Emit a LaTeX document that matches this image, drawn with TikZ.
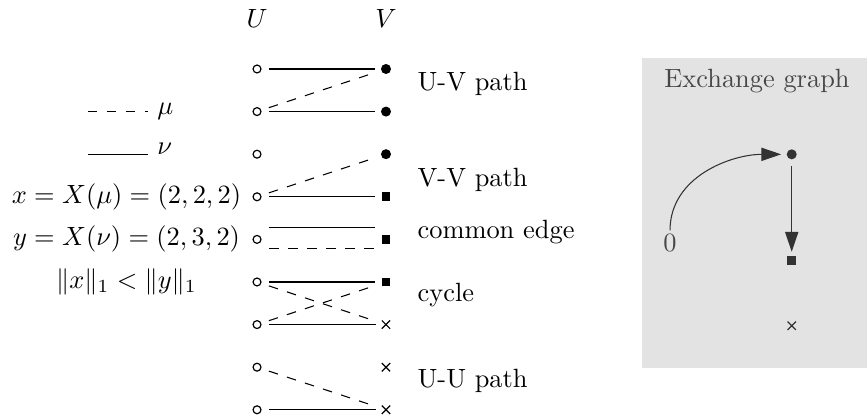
\documentclass[tikz,border=0pt]{standalone}
\usepackage{amsmath,amssymb}
\usepackage{xcolor}
\usepackage{tikz}
\usetikzlibrary{arrows.meta,shapes.misc}

\begin{document}
\begin{tikzpicture}[
    every node/.style = {font=\normalsize},
    % Named styles
    uvert/.style   = {circle, draw, fill=white, inner sep=0pt, minimum size=3pt, line width=0.45pt},
    vdot/.style    = {circle, fill, inner sep=0pt, minimum size=3.8pt},
    vsq/.style     = {rectangle, fill, inner sep=0pt, minimum size=3.4pt},
    vx/.style      = {cross out, draw, inner sep=0pt, minimum size=2.7pt, line width=0.45pt},
    nu/.style      = {shorten <=3pt, shorten >=2.2pt},
    mu/.style      = {nu, dash pattern=on 3.6pt off 3.6pt},
    caselabel/.style = {anchor=base west},
    exbox/.style   = {fill=black!11},
    extext/.style  = {text=black!72},
    exarrow/.style = {black!80, -{Triangle[length=7.5pt,width=5pt]}},
]

% ── Dimensions (tikz units; 1 unit = 1 cm) ───────────────────────────────────
\def\xU{3.424}     % column U
\def\xV{5.142}     % column V
\def\xT{1.685}     % left text column
\def\xL{5.44}      % case labels
\def\rowtop{-0.919}
\def\rowsep{0.5675}

\useasboundingbox (0,0) rectangle (11.55,-5.582);

% ── Column heads ──────────────────────────────────────────────────────────────
\node[anchor=base] (hU) at (\xU,-0.36) {$U$};
\node[anchor=base] (hV) at (\xV,-0.36) {$V$};

% ── Vertices ──────────────────────────────────────────────────────────────────
\foreach \i/\vs in {1/vdot,2/vdot,3/vdot,4/vsq,5/vsq,6/vsq,7/vx,8/vx,9/vx} {
    \node[uvert] (u\i) at (\xU, {\rowtop-(\i-1)*\rowsep}) {};
    \node[\vs]   (v\i) at (\xV, {\rowtop-(\i-1)*\rowsep}) {};
}

% ── Edges of mu (dashed) and nu (solid) ───────────────────────────────────────
% U-V path
\draw[nu] (u1) -- (v1);
\draw[mu] (u2) -- (v1);
\draw[nu] (u2) -- (v2);
% V-V path
\draw[mu] (u4) -- (v3);
\draw[nu] (u4) -- (v4);
% common edge
\draw[nu] ([yshift=0.156cm]u5.east) -- ([yshift=0.156cm]v5.west);
\draw[mu] ([yshift=-0.124cm]u5.east) -- ([yshift=-0.124cm]v5.west);
% cycle
\draw[nu] (u6) -- (v6);
\draw[mu] (u6) -- (v7);
\draw[nu] (u7) -- (v7);
\draw[mu] (u7) -- (v6);
% U-U path
\draw[mu] (u8) -- (v9);
\draw[nu] (u9) -- (v9);

% ── Case labels ───────────────────────────────────────────────────────────────
\node[caselabel] (cUV) at (\xL,-1.199) {U-V path};
\node[caselabel] (cVV) at (\xL,-2.491) {V-V path};
\node[caselabel] (cCE) at (\xL,-3.171) {common edge};
\node[caselabel] (cCY) at (\xL,-4.023) {cycle};
\node[caselabel] (cUU) at (\xL,-5.156) {U-U path};

% ── Legend and sizes ──────────────────────────────────────────────────────────
\coordinate (muA) at (1.172, {\rowtop-1*\rowsep});
\coordinate (muB) at (1.972, {\rowtop-1*\rowsep});
\coordinate (nuA) at (1.172, {\rowtop-2*\rowsep});
\coordinate (nuB) at (1.972, {\rowtop-2*\rowsep});
\draw[dash pattern=on 3.6pt off 3.6pt] (muA) -- (muB) node[right] (lmu) {$\mu$};
\draw (nuA) -- (nuB) node[anchor=base west] (lnu) {$\nu$};

\node (xdef) at (\xT, {\rowtop-3*\rowsep}) {$x = X(\mu) = (2,2,2)$};
\node (ydef) at (\xT, {\rowtop-4*\rowsep}) {$y = X(\nu) = (2,3,2)$};
\node (ineq) at (\xT, {\rowtop-5*\rowsep}) {$\|x\|_1 < \|y\|_1$};

% ── Exchange graph ────────────────────────────────────────────────────────────
\fill[exbox] (8.553,-0.773) rectangle (11.55,-4.903);
\node[extext, anchor=base] (extitle) at (10.085,-1.172) {Exchange graph};

\node[vdot, black!80] (e1) at (10.547,-2.056) {};
\node[vsq, black!80]  (e2) at (10.547,-3.473) {};
\node[vx, black!80]   (e3) at (10.547,-4.339) {};
\node[extext, inner sep=1.5pt] (zero) at (8.926,-3.241) {$0$};

\draw[exarrow, shorten >=1.9pt] (zero.north) to[out=90, in=180] (e1);
\draw[exarrow, shorten <=2.3pt, shorten >=1.5pt] (e1) -- (e2);

\end{tikzpicture}
\end{document}
